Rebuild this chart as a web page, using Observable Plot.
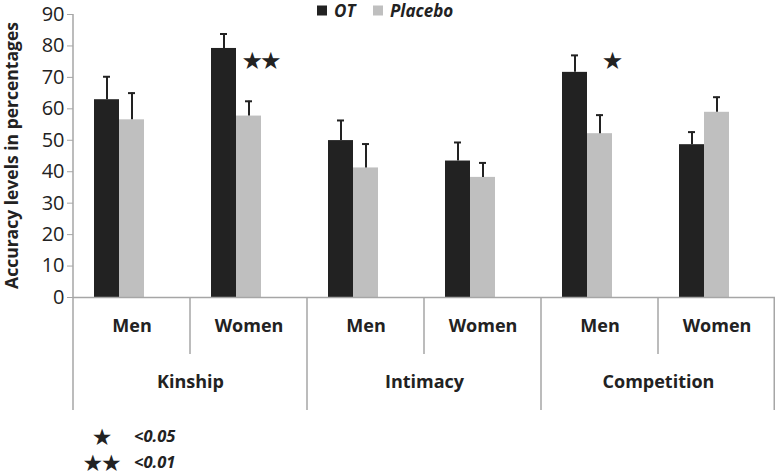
<!DOCTYPE html>
<html>
<head>
<meta charset="utf-8">
<script src="https://cdn.jsdelivr.net/npm/d3@7"></script>
<script src="https://cdn.jsdelivr.net/npm/@observablehq/plot@0.6"></script>
<style>
  html, body { margin: 0; padding: 0; background: #fff; }
  #chart { width: 776px; height: 475px; }
</style>
</head>
<body>
<div id="chart"></div>
<script>
// ---- data ----
const groups  = ["Kinship", "Kinship", "Intimacy", "Intimacy", "Competition", "Competition"];
const genders = ["Men", "Women", "Men", "Women", "Men", "Women"];
const seriesNames = ["OT", "Placebo"];
const otMean = [62.9, 79.2, 49.9, 43.4, 71.6, 48.6];
const otSE   = [7.3, 4.6, 6.4, 5.9, 5.4, 4.0];
const plMean = [56.5, 57.7, 41.2, 38.2, 52.1, 58.9];
const plSE   = [8.5, 4.7, 7.6, 4.6, 5.9, 4.8];
const sig    = ["", "★★", "", "", "★", ""];
const sigLevel = 75;
const yTicks = [0, 10, 20, 30, 40, 50, 60, 70, 80, 90];
const footnotes = [{sym: "★", text: "<0.05"}, {sym: "★★", text: "<0.01"}];

// ---- tables ----
const keys = groups.map((g, i) => g + "|" + genders[i]);
const rows = [];
keys.forEach((k, i) => {
  rows.push({key: k, series: "OT", mean: otMean[i], se: otSE[i]});
  rows.push({key: k, series: "Placebo", mean: plMean[i], se: plSE[i]});
});
const cats = keys.map((k, i) => ({key: k, gender: genders[i], group: groups[i], sig: sig[i]}));
const mains = cats.filter((d, i) => i % 2 === 0);
const sigRows = cats.filter(d => d.sig);

const ink = "#222222";
const gridGrey = "#a6a6a6";
const font = "'Open Sans', sans-serif";

const plot = Plot.plot({
  width: 776,
  height: 475,
  marginLeft: 71,
  marginRight: 0,
  marginTop: 14,
  marginBottom: 178,
  style: {fontFamily: font, color: ink, background: "#fff", overflow: "visible"},
  fx: {domain: keys, padding: 0, axis: null},
  x: {domain: ["OT", "Placebo", "_"], paddingInner: 0, paddingOuter: 0.76, axis: null},
  y: {domain: [0, 90]},
  color: {domain: seriesNames, range: [ink, "#bfbfbf"]},
  marks: [
    Plot.barY(rows, {fx: "key", x: "series", y: "mean", fill: "series"}),
    Plot.ruleX(rows, {fx: "key", x: "series", y1: "mean", y2: d => d.mean + d.se, stroke: ink, strokeWidth: 2}),
    Plot.tickY(rows, {fx: "key", x: "series", y: d => d.mean + d.se, stroke: ink, strokeWidth: 2, insetLeft: 9, insetRight: 9}),
    Plot.ruleY([0], {stroke: gridGrey, strokeWidth: 1.5}),
    Plot.axisY({ticks: yTicks, tickSize: 6, tickPadding: 3, fontSize: 20, stroke: gridGrey, fill: ink, label: null}),
    Plot.text(sigRows, {fx: "key", x: () => "Placebo", y: () => sigLevel, text: "sig", dx: 11, fontSize: 24, fontFamily: "DejaVu Sans", fill: ink}),
    Plot.text(cats, {fx: "key", text: "gender", frameAnchor: "bottom", dy: 34, fontSize: 18, fontWeight: "bold", fill: ink}),
    Plot.text(mains, {fx: "key", text: "group", frameAnchor: "bottom-right", textAnchor: "middle", dy: 90, fontSize: 18, fontWeight: "bold", fill: ink})
  ]
});

document.getElementById("chart").appendChild(plot);

// ---- category dividers, axis line, title, legend, footnote ----
const svg = d3.select(plot);
svg.selectAll("g[aria-label='y-axis tick label']").attr("font-size", 20).style("font-size", "20px");
svg.selectAll("g[aria-label='text'] text").filter(function() { return this.textContent.includes("★"); })
  .attr("letter-spacing", -3);

const fx = plot.scale("fx");
const y = plot.scale("y");
const y0 = y.apply(0), yTop = y.apply(90);
const bw = fx.bandwidth;
const g = svg.append("g").attr("stroke", gridGrey).attr("stroke-width", 1.5);
keys.forEach((k, i) => {
  const x0 = fx.apply(k);
  const main = i % 2 === 0;
  g.append("line").attr("x1", x0).attr("x2", x0)
    .attr("y1", i === 0 ? yTop : y0).attr("y2", main ? y0 + 113 : y0 + 57);
});
const xEnd = fx.apply(keys[keys.length - 1]) + bw - 0.75;
g.append("line").attr("x1", xEnd).attr("x2", xEnd).attr("y1", y0).attr("y2", y0 + 113);

svg.append("text")
  .attr("transform", `translate(13.5,${(yTop + y0) / 2}) rotate(-90)`)
  .attr("text-anchor", "middle").attr("dominant-baseline", "middle")
  .attr("font-family", font).attr("font-weight", "bold").attr("font-size", 17.5)
  .attr("fill", ink).text("Accuracy levels in percentages");

const color = plot.scale("color");
const leg = svg.append("g").attr("font-family", font).attr("font-weight", "bold")
  .attr("font-style", "italic").attr("font-size", 17).attr("fill", ink).attr("text-anchor", "start");
const legX = [317, 373];
seriesNames.forEach((s, i) => {
  leg.append("rect").attr("x", legX[i]).attr("y", 5.5).attr("width", 10).attr("height", 10).attr("fill", color.apply(s));
  leg.append("text").attr("x", legX[i] + 17).attr("y", 16.5).text(s);
});

const fn = svg.append("g").attr("fill", ink);
footnotes.forEach((f, i) => {
  const yy = 438 + i * 26;
  fn.append("text").attr("x", 101).attr("y", yy).attr("text-anchor", "middle")
    .attr("dominant-baseline", "middle").attr("font-family", "DejaVu Sans").attr("font-size", 23)
    .attr("letter-spacing", -2).text(f.sym);
  fn.append("text").attr("x", 134).attr("y", yy).attr("text-anchor", "start").attr("dominant-baseline", "middle")
    .attr("font-family", font).attr("font-weight", "bold").attr("font-style", "italic")
    .attr("font-size", 16.5).text(f.text);
});
</script>
</body>
</html>
